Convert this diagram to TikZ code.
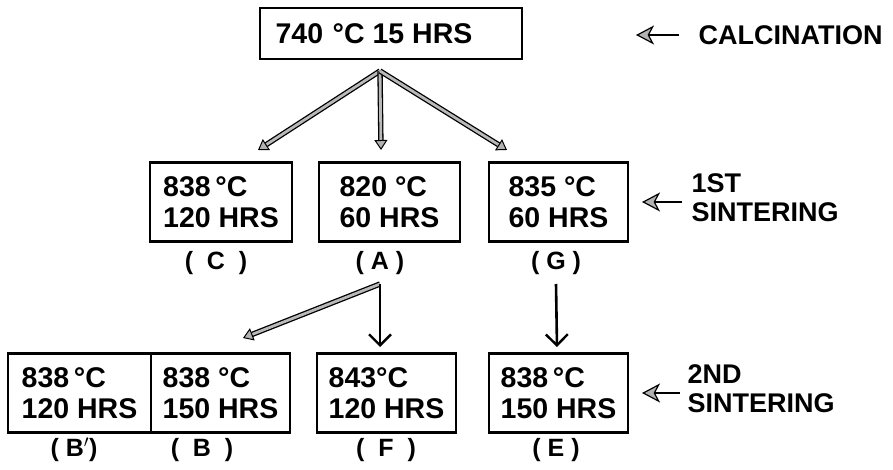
\documentclass[tikz,border=0pt]{standalone}
\usepackage{fontspec}
\setmainfont{Liberation Sans}
\usetikzlibrary{arrows.meta}
\begin{document}
\begin{tikzpicture}[x=1pt,y=-1pt,
  every node/.style={font=\bfseries\fontsize{28.5}{31}\selectfont},
  box/.style={draw,line width=2.4pt,minimum height=79pt,align=left,inner sep=0pt},
  lab/.style={font=\bfseries\fontsize{25}{28}\selectfont},
  down/.style={line width=2.6pt,-{Straight Barb[length=11pt,width=22pt,line width=2.4pt]}},
  diag/.style={line width=1.3pt,double=gray!55,double distance=2.8pt,-{Triangle[length=10pt,width=13pt,fill=gray!60,line width=1pt]}},
  side/.style={line width=2.4pt,-{Stealth[length=18pt,width=19pt,fill=gray!60,inset=5pt,line width=1.2pt]}},
  steplab/.style={align=left,anchor=west,font=\bfseries\fontsize{27}{29}\selectfont}]
\useasboundingbox (0,0) rectangle (893,470);
% boxes
\node[draw,line width=2pt,minimum width=262pt,minimum height=51pt,inner sep=0pt] (T) at (391,33.5) {\hspace*{-34pt}740\,\,°C 15 HRS};
\node[box,minimum width=142pt] (C) at (221,202) {838\,°C\\120 HRS};
\node[box,minimum width=141pt] (A) at (389.5,202) {820 °C\\60 HRS};
\node[box,minimum width=139pt] (G) at (558.5,202) {835 °C\\60 HRS};
\node[box,minimum width=143pt] (Bp) at (79.5,393) {838\,°C\\120 HRS};
\node[box,minimum width=139pt] (B) at (220.5,393) {838 °C\\150 HRS};
\node[box,minimum width=139pt] (F) at (386.5,393) {843°C\\120 HRS};
\node[box,minimum width=139pt] (E) at (558.5,393) {838\,°C\\150 HRS};
% labels under boxes
\node[lab] (lC) at (216,263) {(\;\;C\;\;)};
\node[lab] (lA) at (380,263) {(\;A\;)};
\node[lab] (lG) at (556,263) {(\;G\;)};
\node[lab] (lBp) at (74,450) {(\;B$'$)};
\node[lab] (lB) at (202,450) {(\;\;B\;\;)};
\node[lab] (lF) at (386,450) {(\;\;F\;\;)};
\node[lab] (lE) at (556,450) {(\;E\;)};
% arrows level 1
\coordinate (p1) at (380,71);
\coordinate (e1) at (258,150);
\coordinate (e2) at (381,150);
\coordinate (e3) at (507,150);
\draw[diag] (p1) -- (e1);
\draw[diag] (p1) -- (e2);
\draw[diag] (p1) -- (e3);
% arrows level 2
\coordinate (p2) at (380,284);
\coordinate (f1) at (243,338);
\coordinate (f2) at (380,347);
\draw[diag] (p2) -- (f1);
\draw[down] (p2) -- (f2);
\coordinate (g1) at (556,284);
\coordinate (g2) at (557,347);
\draw[down] (g1) -- (g2);
% stage labels
\node[steplab] (calc) at (695,35) {CALCINATION};
\node[steplab] (s1) at (688,198) {1ST\\SINTERING};
\node[steplab] (s2) at (684,389) {2ND\\SINTERING};
\draw[side] ([xshift=-16pt]calc.west) -- +(-43pt,0);
\draw[side] ([xshift=-6pt,yshift=-4pt]s1.west) -- +(-40pt,0);
\draw[side] ([xshift=-4pt,yshift=-4pt]s2.west) -- +(-38pt,0);
\end{tikzpicture}
\end{document}
